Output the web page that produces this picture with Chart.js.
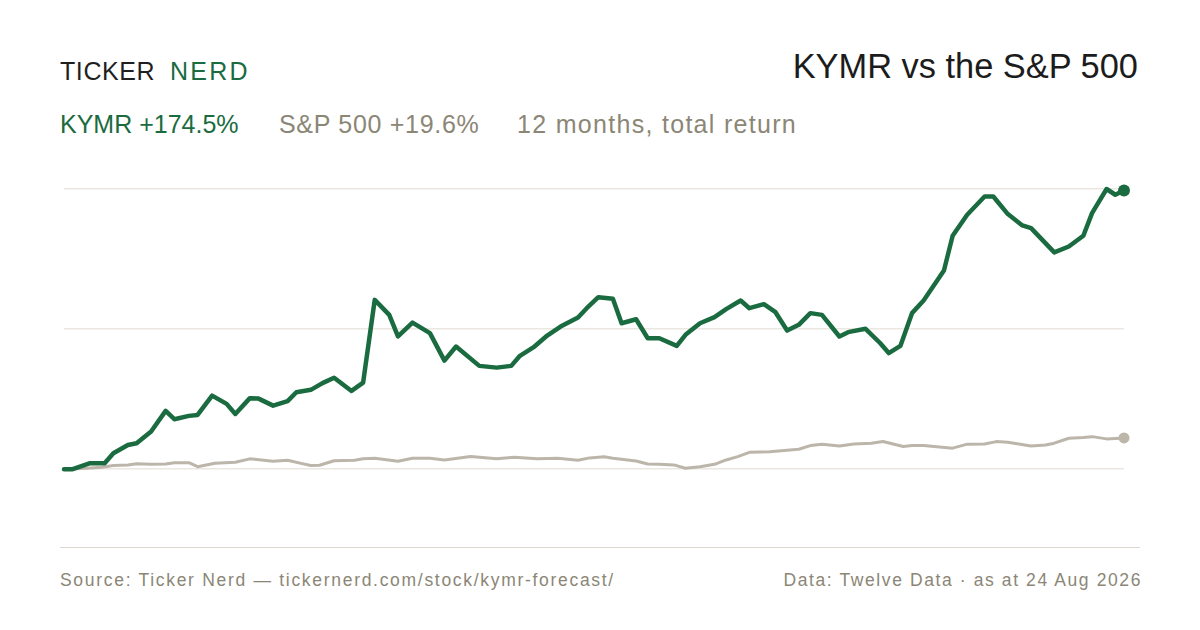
<!DOCTYPE html>
<html>
<head>
<meta charset="utf-8">
<script src="https://cdn.jsdelivr.net/npm/chart.js@4"></script>
<style>
  html, body { margin: 0; padding: 0; background: #fff; }
  body { width: 1200px; height: 630px; position: relative; overflow: hidden; font-family: "Liberation Sans", Arial, sans-serif; }
  .abs { position: absolute; white-space: nowrap; }
  .logo { top: 57px; font-size: 25px; }
  #logoA { left: 60px; letter-spacing: 0.6px; color: #1f1f1f; }
  #logoB { left: 170px; letter-spacing: 2.2px; color: #1a6b40; }
  #title { right: 62px; top: 47px; font-size: 34.4px; color: #1c1c1c; }
  .sub { top: 110px; font-size: 25px; color: #8b8676; }
  #subK { left: 60px; color: #1a6b40; }
  #subS { left: 279px; letter-spacing: 0.7px; }
  #subP { left: 517px; letter-spacing: 1.3px; }
  #rule { left: 60px; top: 547px; width: 1080px; height: 0; border-top: 1.5px solid #dcd7cb; }
  .foot { top: 570px; font-size: 17.5px; letter-spacing: 1.6px; color: #8b8676; }
  #footL { left: 60px; letter-spacing: 1.7px; }
  #footR { right: 58px; }
  #wrap { position: absolute; left: 0; top: 0; width: 1200px; height: 630px; }
</style>
</head>
<body>
<div id="logoA" class="abs logo">TICKER</div>
<div id="logoB" class="abs logo">NERD</div>
<div id="title" class="abs">KYMR vs the S&amp;P 500</div>
<div id="subK" class="abs sub">KYMR +174.5%</div>
<div id="subS" class="abs sub">S&amp;P 500 +19.6%</div>
<div id="subP" class="abs sub">12 months, total return</div>
<div id="rule" class="abs"></div>
<div id="footL" class="abs foot">Source: Ticker Nerd — tickernerd.com/stock/kymr-forecast/</div>
<div id="footR" class="abs foot">Data: Twelve Data · as at 24 Aug 2026</div>
<div id="wrap"><canvas id="chart" width="1200" height="630"></canvas></div>
<script>
// days since start (calendar), total return in %
const kymrDays = [0, 3, 9, 14, 17, 22, 25, 30, 35, 38, 43, 46, 51, 56, 59, 64, 67, 72, 77, 80, 85, 89, 93, 99, 103, 107, 112, 115, 120, 126, 131, 135, 143, 149, 154, 157, 162, 166, 171, 177, 180, 184, 189, 192, 197, 201, 205, 211, 214, 219, 224, 228, 233, 236, 241, 245, 249, 253, 257, 261, 267, 270, 276, 281, 284, 288, 292, 296, 303, 306, 311, 317, 320, 325, 330, 333, 341, 346, 351, 354, 359, 362, 365];
const kymrReturn = [0, 0, 3.8, 3.8, 10.0, 15.2, 16.3, 23.6, 36.5, 31.3, 33.4, 34.0, 46.1, 40.9, 34.6, 44.5, 44.2, 39.8, 42.6, 48.2, 49.7, 53.9, 57.3, 49.0, 54.2, 106.0, 96.6, 83.1, 91.8, 85.2, 68.0, 76.8, 64.7, 63.6, 64.7, 71.0, 76.8, 83.1, 89.3, 95.0, 100.8, 107.7, 106.7, 91.4, 93.9, 82.0, 82.0, 77.2, 84.1, 91.4, 95.2, 100.2, 105.6, 100.8, 103.3, 98.3, 86.8, 90.4, 97.7, 96.6, 83.1, 85.8, 87.9, 79.0, 72.7, 77.2, 97.7, 105.6, 124.4, 146.1, 159.3, 170.7, 170.7, 159.7, 152.6, 150.9, 135.7, 139.4, 146.1, 160.3, 175.4, 171.8, 174.5];

const spxDays = [0, 8, 13, 17, 22, 25, 30, 35, 38, 43, 46, 52, 59, 64, 72, 77, 82, 85, 88, 93, 100, 103, 107, 115, 120, 126, 131, 140, 149, 155, 163, 170, 177, 181, 186, 189, 197, 201, 205, 210, 214, 219, 224, 228, 232, 236, 243, 253, 257, 261, 267, 272, 278, 282, 289, 292, 296, 306, 311, 317, 321, 325, 333, 338, 341, 346, 351, 354, 359, 365];
const spxReturn = [0, 0.6, 1.3, 2.3, 2.7, 3.5, 3.1, 3.3, 4.1, 4.1, 1.6, 3.8, 4.4, 6.5, 5.0, 5.6, 3.5, 2.3, 2.5, 5.3, 5.6, 6.5, 6.9, 5.0, 6.9, 6.9, 5.8, 7.9, 6.5, 7.5, 6.6, 6.9, 5.6, 7.1, 7.8, 6.9, 5.2, 3.3, 3.1, 2.7, 0.6, 1.6, 3.1, 5.8, 7.9, 10.6, 11.0, 12.5, 14.8, 15.7, 14.6, 15.8, 16.3, 17.4, 14.2, 14.8, 14.8, 13.2, 15.7, 15.8, 17.3, 16.9, 14.6, 15.2, 16.3, 19.4, 19.8, 20.4, 19.0, 19.6];

const gridTicks = [0, 87.7, 175.4];
const yMin = -49.3;
const yMax = 175.4;

const green = '#1a6b40';
const sand = '#bcb5aa';

function toPoints(days, vals) {
  return days.map((d, i) => ({ x: d, y: vals[i] }));
}

function lastDot(size) {
  return (ctx) => ctx.dataIndex === ctx.dataset.data.length - 1 ? size : 0;
}

const ctx = document.getElementById('chart').getContext('2d');
new Chart(ctx, {
  type: 'line',
  data: {
    datasets: [{
      label: 'KYMR',
      data: toPoints(kymrDays, kymrReturn),
      borderColor: green,
      backgroundColor: green,
      borderWidth: 4.5,
      pointRadius: lastDot(6),
      pointHoverRadius: 0,
      pointBorderWidth: 0,
      borderJoinStyle: 'round',
      borderCapStyle: 'round',
      tension: 0,
      clip: false
    }, {
      label: 'S&P 500',
      data: toPoints(spxDays, spxReturn),
      borderColor: sand,
      backgroundColor: sand,
      borderWidth: 3,
      pointRadius: lastDot(5.5),
      pointHoverRadius: 0,
      pointBorderWidth: 0,
      borderJoinStyle: 'round',
      borderCapStyle: 'round',
      tension: 0,
      clip: false
    }]
  },
  options: {
    responsive: false,
    animation: false,
    events: [],
    layout: {
      autoPadding: false,
      padding: { left: 64, right: 76, top: 189, bottom: 82 }
    },
    plugins: {
      legend: { display: false },
      tooltip: { enabled: false }
    },
    scales: {
      x: {
        type: 'linear',
        display: false,
        min: 0,
        max: 365
      },
      y: {
        min: yMin,
        max: yMax,
        afterBuildTicks: (axis) => { axis.ticks = gridTicks.map(v => ({ value: v })); },
        ticks: { display: false },
        border: { display: false },
        grid: { color: '#ece8e1', lineWidth: 1.5, drawTicks: false, tickLength: 0 }
      }
    }
  }
});
</script>
</body>
</html>
